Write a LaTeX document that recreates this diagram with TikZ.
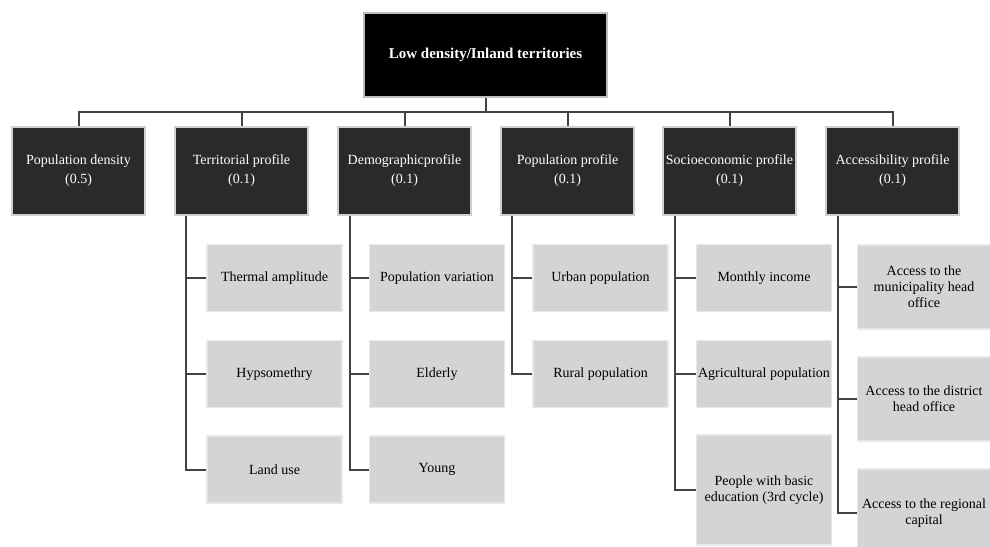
\documentclass[tikz,border=0pt]{standalone}
\usepackage{fontspec}
\setmainfont{Liberation Serif}
\definecolor{toprim}{HTML}{BDBDBD}
\definecolor{catrim}{HTML}{CFCFCF}
\definecolor{catfill}{HTML}{2A2A2A}
\definecolor{subrim}{HTML}{E8E8E8}
\definecolor{subfill}{HTML}{D4D4D4}
\definecolor{linkc}{HTML}{424242}
\begin{document}
\begin{tikzpicture}[x=1pt,y=-1pt,
  topbox/.style={draw=toprim, line width=1.5pt, fill=black, text=white, font=\fontsize{15}{18}\selectfont\bfseries, minimum width=243pt, minimum height=84pt, inner sep=0pt},
  catbox/.style={draw=catrim, line width=1.5pt, fill=catfill, text=white, font=\fontsize{14}{19}\selectfont, minimum width=133pt, minimum height=88pt, align=center, inner sep=0pt},
  subbox/.style={draw=subrim, line width=1.5pt, fill=subfill, text=black, font=\fontsize{14}{16}\selectfont, minimum width=135pt, minimum height=67pt, align=center, inner sep=0pt},
  link/.style={draw=linkc, line width=2pt}]
\useasboundingbox (0,0) rectangle (990,546);
\clip (0,0) rectangle (990,546);
\fill[white] (0,0) rectangle (990,546);

% top
\node[topbox] (top) at (485.5,55) {Low density/Inland territories};

% categories
\node[catbox] (d1) at (78.5,171) {Population density\\(0.5)};
\node[catbox] (d2) at (241.5,171) {Territorial profile\\(0.1)};
\node[catbox] (d3) at (404.5,171) {Demographicprofile\\(0.1)};
\node[catbox] (d4) at (567.5,171) {Population profile\\(0.1)};
\node[catbox] (d5) at (729.5,171) {Socioeconomic profile\\(0.1)};
\node[catbox] (d6) at (892.5,171) {Accessibility profile\\(0.1)};

% territorial
\node[subbox] (t1) at (274.5,278) {Thermal amplitude};
\node[subbox] (t2) at (274.5,374) {Hypsomethry};
\node[subbox] (t3) at (274.5,469.5) {Land use};
% demographic
\node[subbox] (g1) at (437,278) {Population variation};
\node[subbox] (g2) at (437,374) {Elderly};
\node[subbox] (g3) at (437,469.5) {Young};
% population
\node[subbox] (p1) at (600.5,278) {Urban population};
\node[subbox] (p2) at (600.5,374) {Rural population};
% socioeconomic
\node[subbox] (s1) at (764,278) {Monthly income};
\node[subbox] (s2) at (764,374) {Agricultural population};
\node[subbox, minimum height=110pt] (s3) at (764,490) {People with basic\\education (3rd cycle)};
% accessibility
\node[subbox, minimum width=133pt, minimum height=84pt] (a1) at (924,287) {Access to the\\municipality head\\office};
\node[subbox, minimum width=133pt, minimum height=84pt] (a2) at (924,399) {Access to the district\\head office};
\node[subbox, minimum width=133pt, minimum height=88pt] (a3) at (924,513) {Access to the regional\\capital};

% top connectors
\coordinate (bus) at (485.5,112);
\draw[link] (top.south) -- (bus);
\foreach \n in {d1,d2,d3,d4,d5,d6} {
  \draw[link] (bus) -| (\n.north);
}

% group connectors
\coordinate (v2) at ([xshift=12pt]d2.south west);
\coordinate (v3) at ([xshift=13pt]d3.south west);
\coordinate (v4) at ([xshift=12pt]d4.south west);
\coordinate (v5) at ([xshift=13pt]d5.south west);
\coordinate (v6) at ([xshift=13pt]d6.south west);
\foreach \c in {t1,t2,t3} { \draw[link] (v2) |- (\c.west); }
\foreach \c in {g1,g2,g3} { \draw[link] (v3) |- (\c.west); }
\foreach \c in {p1,p2} { \draw[link] (v4) |- (\c.west); }
\foreach \c in {s1,s2,s3} { \draw[link] (v5) |- (\c.west); }
\foreach \c in {a1,a2,a3} { \draw[link] (v6) |- (\c.west); }
\end{tikzpicture}
\end{document}
